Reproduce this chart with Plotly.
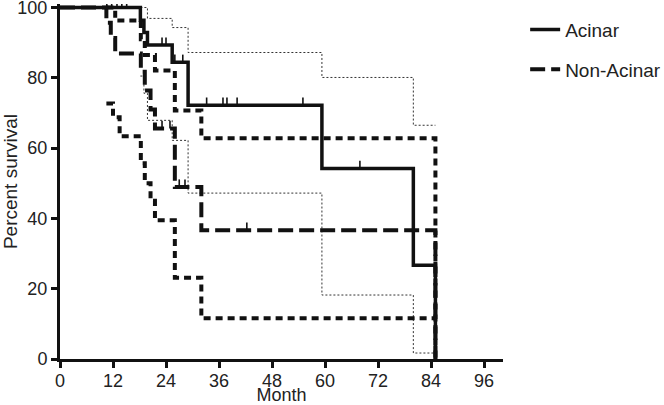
import plotly.graph_objects as go

# Kaplan-Meier steps (month, percent survival)
acinar_t = [0, 18.2, 19.0, 19.8, 25.4, 29.0, 59.3, 80.0, 85.0]
acinar_s = [100, 96.4, 92.9, 89.3, 84.4, 72.2, 54.2, 26.7, 0]
acinar_upper_t = [18.2, 19.8, 25.4, 29.0, 59.3, 80.0, 85.0]
acinar_upper = [100, 96.9, 94.3, 87.2, 80.1, 66.5, 66.5]
acinar_lower_t = [18.2, 19.0, 19.8, 25.4, 29.0, 59.3, 80.0, 85.0]
acinar_lower = [80.5, 75.6, 67.9, 62.2, 47.2, 18.2, 1.7, 1.7]
acinar_cens_t = [10.6, 11.7, 12.9, 14.0, 15.1, 23.1, 24.0, 26.0, 27.8,
                 33.2, 36.9, 37.8, 40.1, 55.0, 67.9]
acinar_cens_s = [100, 100, 100, 100, 100, 89.3, 89.3, 84.4, 84.4,
                 72.2, 72.2, 72.2, 72.2, 72.2, 54.2]

non_t = [0, 10.5, 11.5, 12.5, 18.3, 19.2, 20.5, 21.5, 26.0, 32.0, 85.0]
non_s = [100, 95.7, 91.3, 86.9, 81.7, 76.4, 71.0, 65.6, 48.9, 36.6, 0]
non_upper_t = [10.5, 12.5, 18.3, 19.2, 21.5, 26.0, 32.0, 85.0]
non_upper = [100, 96.3, 91.0, 86.5, 82.1, 70.7, 62.8, 0]
non_lower_t = [10.5, 12.0, 13.5, 18.3, 19.2, 20.5, 21.5, 26.0, 32.0, 85.0]
non_lower = [72.7, 68.8, 63.4, 55.7, 50.0, 45.0, 39.5, 23.1, 11.6, 11.6]
non_cens_t = [23.1, 24.9, 27.0, 28.3, 42.3]
non_cens_s = [65.6, 65.6, 48.9, 48.9, 36.6]

x_ticks = [0, 12, 24, 36, 48, 60, 72, 84, 96]
y_ticks = [0, 20, 40, 60, 80, 100]

INK = "#111111"
TEXT = "#222222"
FONT = "Liberation Sans, Arial, sans-serif"
TICK = 2.2  # censor tick height (percent units)

fig = go.Figure()

# confidence bands first so the survival lines sit on top
fig.add_trace(go.Scatter(x=acinar_upper_t, y=acinar_upper, mode="lines", line_shape="hv",
                         line=dict(color="#333333", width=1, dash="2px,2px"),
                         showlegend=False, hoverinfo="skip"))
fig.add_trace(go.Scatter(x=acinar_lower_t, y=acinar_lower, mode="lines", line_shape="hv",
                         line=dict(color="#333333", width=1, dash="2px,2px"),
                         showlegend=False, hoverinfo="skip"))
fig.add_trace(go.Scatter(x=non_upper_t, y=non_upper, mode="lines", line_shape="hv",
                         line=dict(color=INK, width=4, dash="7px,5px"),
                         showlegend=False, hoverinfo="skip"))
fig.add_trace(go.Scatter(x=non_lower_t, y=non_lower, mode="lines", line_shape="hv",
                         line=dict(color=INK, width=4, dash="7px,5px"),
                         showlegend=False, hoverinfo="skip"))

fig.add_trace(go.Scatter(x=acinar_t, y=acinar_s, mode="lines", line_shape="hv",
                         line=dict(color=INK, width=3.5), name="Acinar",
                         legendgroup="a"))
fig.add_trace(go.Scatter(x=non_t, y=non_s, mode="lines", line_shape="hv",
                         line=dict(color=INK, width=4, dash="15px,6px"), name="Non-Acinar",
                         legendgroup="b"))

# censor marks: short upward ticks
for ct, cs in [(acinar_cens_t, acinar_cens_s), (non_cens_t, non_cens_s)]:
    fig.add_trace(go.Scatter(
        x=ct, y=cs, mode="markers", marker=dict(size=1, color=INK, opacity=0),
        error_y=dict(type="data", symmetric=False, array=[TICK] * len(ct),
                     arrayminus=[0] * len(ct), thickness=1.6, width=0, color=INK),
        showlegend=False, hoverinfo="skip", cliponaxis=False))

axis_common = dict(
    showline=True, linecolor=INK, linewidth=3, ticks="outside", ticklen=6,
    tickwidth=2.5, tickcolor=INK, showgrid=False, zeroline=False,
    automargin=False, ticklabeloverflow="allow",
    tickfont=dict(size=18, color=TEXT, family=FONT),
)

fig.update_layout(
    width=664, height=405,
    paper_bgcolor="white", plot_bgcolor="white",
    font=dict(family=FONT, color=TEXT, size=18),
    margin=dict(l=60, r=161, t=3.5, b=46, autoexpand=False),
    xaxis=dict(**axis_common, range=[0, 100.3], tickvals=x_ticks, ticklabelstandoff=-3,
               title=dict(text="Month", standoff=7, font=dict(size=18))),
    yaxis=dict(**axis_common, range=[0, 101], tickvals=y_ticks,
               title=dict(text="Percent survival", standoff=7, font=dict(size=19))),
    legend=dict(x=1.05, y=0.981, xanchor="left", yanchor="top",
                font=dict(size=19, family=FONT, color=TEXT),
                tracegroupgap=12, bgcolor="rgba(0,0,0,0)"),
)

# drop the browser's default body margin so the figure fills the window
fig.write_html("out.html", config={"displayModeBar": False},
               post_script="document.body.style.margin='0';")
